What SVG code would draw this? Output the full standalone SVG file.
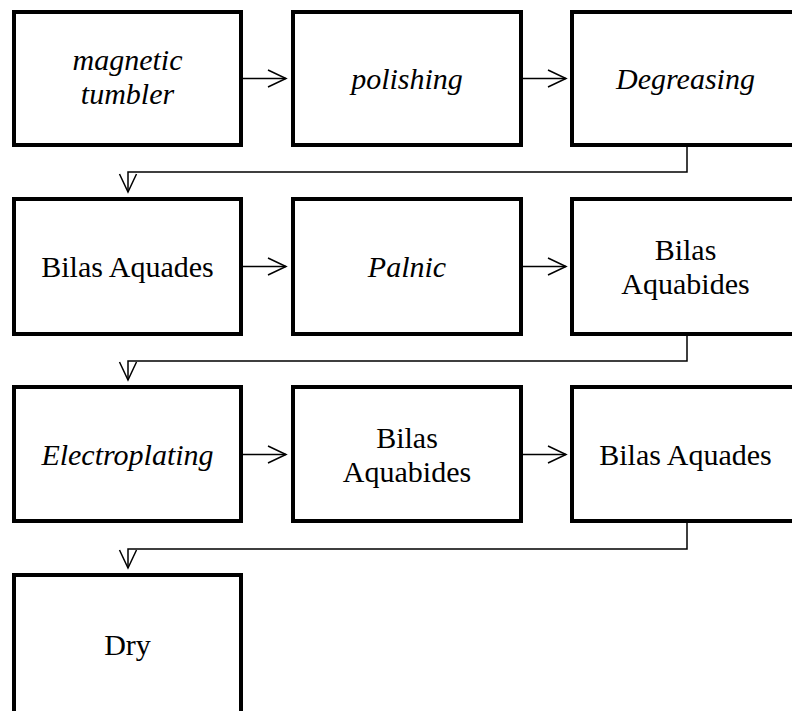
<svg xmlns="http://www.w3.org/2000/svg" width="792" height="711" viewBox="0 0 792 711">
<style>
.box{fill:#fff;stroke:#000;stroke-width:4}
.t{font-family:"Liberation Serif","Times New Roman",serif;font-size:30px;fill:#000;text-anchor:middle}
.i{font-style:italic}
.c{fill:none;stroke:#000;stroke-width:1.5}
</style>
<defs>
<marker id="arr" markerUnits="userSpaceOnUse" markerWidth="22" markerHeight="22" refX="18" refY="8.5" orient="auto" viewBox="-2 -2 22 21">
<path d="M0,0 L18,8.5 L0,17" fill="none" stroke="#000" stroke-width="1.5"/>
</marker>
</defs>
<rect width="792" height="711" fill="#fff"/>
<g id="connectors">
<line class="c" x1="243" y1="78.5" x2="286" y2="78.5" marker-end="url(#arr)"/>
<line class="c" x1="523" y1="78.5" x2="566" y2="78.5" marker-end="url(#arr)"/>
<path class="c" d="M687,147 V172 H128 V192" marker-end="url(#arr)"/>
<line class="c" x1="243" y1="266.5" x2="286" y2="266.5" marker-end="url(#arr)"/>
<line class="c" x1="523" y1="266.5" x2="566" y2="266.5" marker-end="url(#arr)"/>
<path class="c" d="M687,336 V361 H128 V380" marker-end="url(#arr)"/>
<line class="c" x1="243" y1="454.5" x2="286" y2="454.5" marker-end="url(#arr)"/>
<line class="c" x1="523" y1="454.5" x2="566" y2="454.5" marker-end="url(#arr)"/>
<path class="c" d="M687,523 V549 H128 V568" marker-end="url(#arr)"/>
</g>
<g id="n1"><rect class="box" x="14" y="12" width="227" height="133"/><text class="t i" x="127.5" y="70">magnetic</text><text class="t i" x="127.5" y="104">tumbler</text></g>
<g id="n2"><rect class="box" x="293" y="12" width="228" height="133"/><text class="t i" x="407" y="89">polishing</text></g>
<g id="n3"><rect class="box" x="572" y="12" width="227" height="133"/><text class="t i" x="685.5" y="89">Degreasing</text></g>
<g id="n4"><rect class="box" x="14" y="199" width="227" height="135"/><text class="t" x="127.5" y="277">Bilas Aquades</text></g>
<g id="n5"><rect class="box" x="293" y="199" width="228" height="135"/><text class="t i" x="407" y="277">Palnic</text></g>
<g id="n6"><rect class="box" x="572" y="199" width="227" height="135"/><text class="t" x="685.5" y="260">Bilas</text><text class="t" x="685.5" y="294">Aquabides</text></g>
<g id="n7"><rect class="box" x="14" y="387" width="227" height="134"/><text class="t i" x="127.5" y="465">Electroplating</text></g>
<g id="n8"><rect class="box" x="293" y="387" width="228" height="134"/><text class="t" x="407" y="448">Bilas</text><text class="t" x="407" y="482">Aquabides</text></g>
<g id="n9"><rect class="box" x="572" y="387" width="227" height="134"/><text class="t" x="685.5" y="465">Bilas Aquades</text></g>
<g id="n10"><rect class="box" x="14" y="575" width="227" height="150"/><text class="t" x="127.5" y="655">Dry</text></g>
</svg>
